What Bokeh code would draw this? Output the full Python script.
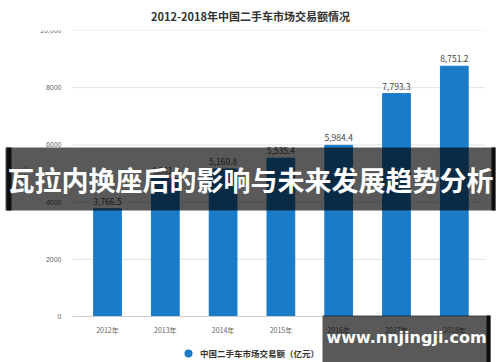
from bokeh.plotting import figure
from bokeh.models import (ColumnDataSource, Range1d, Label, BoxAnnotation,
                          Legend, LegendItem, FixedTicker, LinearAxis)
from bokeh.core.properties import value
from bokeh.embed import file_html
from bokeh.resources import INLINE

years = ["2012年", "2013年", "2014年", "2015年", "2016年", "2017年", "2018年"]
values = [3766.5, 4831.2, 5160.8, 5535.4, 5984.4, 7793.3, 8751.2]
value_labels = ["3,766.5", "4,831.2", "5,160.8", "5,535.4", "5,984.4", "7,793.3", "8,751.2"]
y_ticks = [0, 2000, 4000, 6000, 8000, 10000]
y_tick_labels = ["0", "2000", "4000", "6000", "8000", "10,000"]
title = "2012-2018年中国二手车市场交易额情况"
series_name = "中国二手车市场交易额（亿元）"
banner = "瓦拉内换座后的影响与未来发展趋势分析"
site = "www.nnjingji.com"

FONT = "Noto Sans CJK SC"
BLUE = "#1a7bc9"

idx = list(range(len(years)))
src = ColumnDataSource(dict(x=idx, top=values, lab=value_labels))

# layout: frame covers the canvas below the title; axes are pinned inside it
W, H, TOP = 500, 362, 30
PX_PER_CAT = 57.8
X0 = -107 / PX_PER_CAT
X1 = X0 + W / PX_PER_CAT
PX_PER_UNIT = 286 / 10000
Y0 = -(H - 316) / PX_PER_UNIT
AXIS_X = X0 + 72 / PX_PER_CAT
AXIS_XR = X0 + 485 / PX_PER_CAT

p = figure(width=W, height=H, output_backend="svg", toolbar_location=None,
           x_range=Range1d(X0, X1), y_range=Range1d(Y0, 10000),
           x_axis_location=None, y_axis_location=None,
           min_border_left=0, min_border_right=0, min_border_top=TOP, min_border_bottom=0)
p.title.text = title
p.title.align = "center"
p.title.vertical_align = "top"
p.title.text_font = FONT
p.title.text_font_size = "11px"
p.title.text_font_style = "bold"
p.title.text_color = "#333333"
p.title.offset = 0
p.outline_line_color = None
p.background_fill_color = "white"
p.border_fill_color = "white"
for g in p.grid:
    g.visible = False

# horizontal grid lines at the y ticks
grid_src = ColumnDataSource(dict(y=y_ticks))
p.segment(x0=AXIS_X, x1=AXIS_XR, y0="y", y1="y", source=grid_src,
          line_color="#e3e3e3", line_width=1)

r = p.vbar(x="x", top="top", width=0.48, source=src, color=BLUE)
p.text(x="x", y="top", text="lab", source=src, text_align="center", text_baseline="bottom",
       y_offset=-4, text_font_size="8.5px", text_color="#444444", text_font=value(FONT))
# legend marker (zero-size points on the bar tops; legend draws its own circle)
dot = p.scatter(x="x", y="top", source=src, marker="circle", size=0,
                fill_color=BLUE, line_alpha=0)

yaxis = LinearAxis(fixed_location=AXIS_X, bounds=(0, 10000), ticker=FixedTicker(ticks=y_ticks),
                   major_label_overrides={t: l for t, l in zip(y_ticks, y_tick_labels)},
                   axis_line_color=None, major_tick_line_color=None, minor_tick_line_color=None,
                   major_label_text_font_size="7px", major_label_text_color="#666666",
                   major_label_standoff=5, axis_label="亿元", axis_label_text_font=FONT,
                   axis_label_text_font_size="7px", axis_label_text_color="#777777",
                   axis_label_text_font_style="normal", axis_label_standoff=10)
p.add_layout(yaxis, "left")

xaxis = LinearAxis(fixed_location=0, bounds=(AXIS_X, AXIS_XR), ticker=FixedTicker(ticks=idx),
                   major_label_overrides={i: y for i, y in zip(idx, years)},
                   axis_line_color="#cccccc", major_tick_line_color=None, minor_tick_line_color=None,
                   major_label_text_font_size="7px", major_label_text_color="#666666",
                   major_label_standoff=2, major_label_text_font=FONT)
p.add_layout(xaxis, "below")

legend = Legend(items=[LegendItem(label=series_name, renderers=[dot])],
                location=(178, -1), orientation="horizontal", margin=0, padding=0,
                label_text_font=FONT, label_text_font_size="8.5px", label_text_font_style="bold",
                label_text_color="#333333", border_line_color=None, background_fill_alpha=0,
                glyph_width=20, glyph_height=20, label_height=20, label_standoff=2)
p.add_layout(legend, "center")

# overlays in canvas units
def box(l, r_, t, b, alpha=0.65):
    return BoxAnnotation(left=l, right=r_, top=t, bottom=b,
                         left_units="canvas", right_units="canvas",
                         top_units="canvas", bottom_units="canvas",
                         fill_color="black", fill_alpha=alpha, line_color=None, level="overlay")

p.add_layout(box(5, 495, 147, 210))
p.add_layout(box(6, 11, 147, 210, 0.85))
p.add_layout(box(491, 495, 147, 210, 0.85))
p.add_layout(box(322, 490, 315, 362))
p.add_layout(box(486, 490, 315, 362, 0.85))
p.add_layout(Label(x=250, y=179, x_units="canvas", y_units="canvas", text=banner,
                   text_align="center", text_baseline="middle", text_font=FONT, level="overlay",
                   text_font_size="27px", text_font_style="bold", text_color="white"))
p.add_layout(Label(x=406, y=337, x_units="canvas", y_units="canvas", text=site,
                   text_align="center", text_baseline="middle", text_font="DejaVu Sans", level="overlay",
                   text_font_size="16px", text_font_style="bold", text_color="white"))

open("out.html", "w").write(file_html(p, INLINE))
